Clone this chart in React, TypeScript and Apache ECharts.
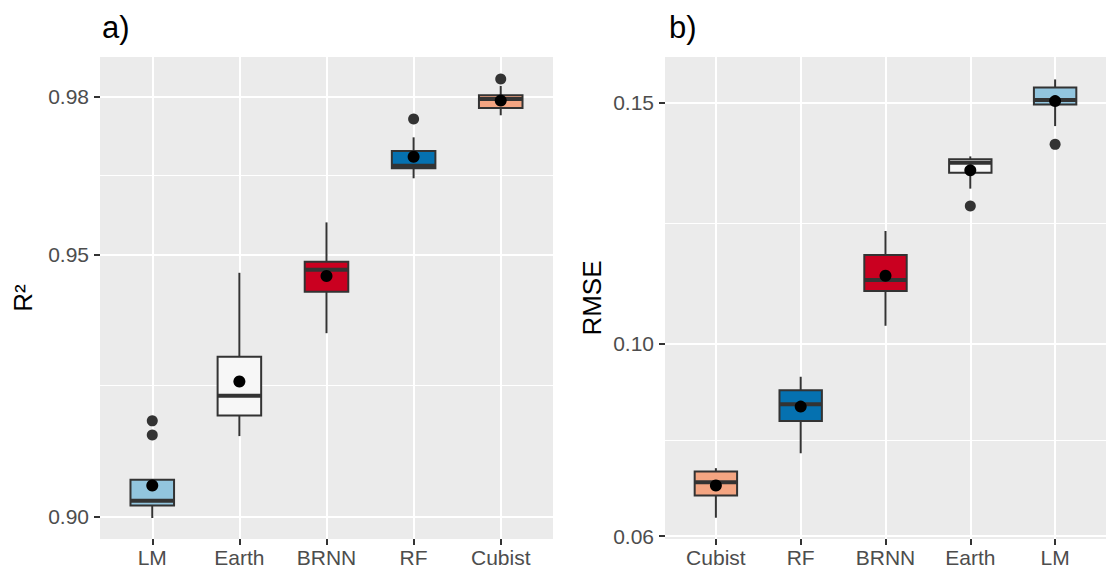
import React, { useEffect, useRef } from "react";
import * as echarts from "echarts";

// ---------- Panel a) R² ----------
const r2Models = ["LM", "Earth", "BRNN", "RF", "Cubist"];
const r2Lower = [0.8998, 0.9154, 0.935, 0.9645, 0.9765];
const r2Q1 = [0.9022, 0.9193, 0.9429, 0.9664, 0.9779];
const r2Median = [0.9031, 0.9231, 0.9471, 0.9669, 0.9796];
const r2Q3 = [0.9071, 0.9305, 0.9486, 0.9697, 0.9803];
const r2Upper = [0.9071, 0.9465, 0.9561, 0.9723, 0.9821];
const r2Mean = [0.906, 0.9258, 0.9459, 0.9686, 0.9793];
const r2Outliers: [string, number][] = [
  ["LM", 0.9183],
  ["LM", 0.9156],
  ["RF", 0.9758],
  ["Cubist", 0.9834],
];
const r2Ticks = [0.9, 0.95, 0.98];
const r2MinorTicks = [0.925, 0.965];
const r2Limits = [0.8958, 0.9876];

// ---------- Panel b) RMSE ----------
const rmseModels = ["Cubist", "RF", "BRNN", "Earth", "LM"];
const rmseLower = [0.0638, 0.0772, 0.1037, 0.1322, 0.1452];
const rmseQ1 = [0.0684, 0.0839, 0.1109, 0.1355, 0.1497];
const rmseMedian = [0.0712, 0.0874, 0.1132, 0.1376, 0.1506];
const rmseQ3 = [0.0734, 0.0903, 0.1184, 0.1383, 0.1532];
const rmseUpper = [0.0741, 0.0931, 0.1234, 0.1389, 0.1549];
const rmseMean = [0.0705, 0.0869, 0.1141, 0.136, 0.1504];
const rmseOutliers: [string, number][] = [
  ["Earth", 0.1286],
  ["LM", 0.1414],
];
const rmseTicks = [0.06, 0.1, 0.15];
const rmseMinorTicks = [0.08, 0.125];
const rmseLimits = [0.05938, 0.15956];

const modelColors: Record<string, string> = {
  LM: "#92C5DE",
  Earth: "#F7F7F7",
  BRNN: "#CA0020",
  RF: "#0571B0",
  Cubist: "#F4A582",
};

const FONT = "'Liberation Sans', Arial, Helvetica, sans-serif";
const DARK = "#333333";

function xAxisFor(gridIndex: number, models: string[]) {
  const pos = models.map((_, i) => i + 1);
  return {
    gridIndex,
    type: "value",
    min: 0.4,
    max: models.length + 0.6,
    axisLine: { show: false },
    axisTick: {
      show: true,
      customValues: pos,
      length: 6,
      lineStyle: { color: DARK, width: 2 },
    },
    axisLabel: {
      customValues: pos,
      formatter: (v: number) => models[Math.round(v) - 1] ?? "",
      color: "#4D4D4D",
      fontSize: 21,
      fontFamily: FONT,
      margin: 8,
    },
    splitLine: { show: true, lineStyle: { color: "#FFFFFF", width: 2 } },
  };
}

function yAxesFor(
  gridIndex: number,
  limits: number[],
  ticks: number[],
  minor: number[],
  name: string,
  nameGap: number
) {
  return [
    {
      gridIndex,
      type: "value",
      min: limits[0],
      max: limits[1],
      name,
      nameLocation: "middle",
      nameGap,
      nameTextStyle: { fontSize: 26, color: "#000000", fontFamily: FONT },
      axisLine: { show: false },
      axisTick: {
        show: true,
        customValues: ticks,
        length: 6,
        lineStyle: { color: DARK, width: 2 },
      },
      axisLabel: {
        customValues: ticks,
        formatter: (v: number) => v.toFixed(2),
        color: "#4D4D4D",
        fontSize: 21,
        fontFamily: FONT,
        margin: 11,
      },
      splitLine: { show: true, lineStyle: { color: "#FFFFFF", width: 2 } },
    },
    {
      gridIndex,
      type: "value",
      position: "left",
      min: limits[0],
      max: limits[1],
      axisLine: { show: false },
      axisTick: { show: false, customValues: minor },
      axisLabel: { show: false, customValues: minor },
      splitLine: { show: true, lineStyle: { color: "#FFFFFF", width: 1 } },
    },
  ];
}

function boxSeries(
  axisIdx: number,
  yIdx: number,
  models: string[],
  lo: number[],
  q1: number[],
  med: number[],
  q3: number[],
  hi: number[]
) {
  return {
    type: "custom",
    xAxisIndex: axisIdx,
    yAxisIndex: yIdx,
    z: 3,
    encode: { x: 0, y: [1, 2, 3, 4, 5] },
    data: models.map((_, i) => [i + 1, lo[i], q1[i], med[i], q3[i], hi[i]]),
    renderItem: (params: any, api: any) => {
      const x = api.value(0);
      const pLo = api.coord([x, api.value(1)]);
      const pQ1 = api.coord([x, api.value(2)]);
      const pMed = api.coord([x, api.value(3)]);
      const pQ3 = api.coord([x, api.value(4)]);
      const pHi = api.coord([x, api.value(5)]);
      const w = api.size([0.5, 0])[0];
      const cx = pMed[0];
      const fill = modelColors[models[params.dataIndex]];
      const lineStyle = { stroke: DARK, lineWidth: 2 };
      return {
        type: "group",
        children: [
          {
            type: "line",
            shape: { x1: cx, y1: pHi[1], x2: cx, y2: pQ3[1] },
            style: lineStyle,
          },
          {
            type: "line",
            shape: { x1: cx, y1: pQ1[1], x2: cx, y2: pLo[1] },
            style: lineStyle,
          },
          {
            type: "rect",
            shape: { x: cx - w / 2, y: pQ3[1], width: w, height: pQ1[1] - pQ3[1] },
            style: { fill, stroke: DARK, lineWidth: 2 },
          },
          {
            type: "line",
            shape: { x1: cx - w / 2, y1: pMed[1], x2: cx + w / 2, y2: pMed[1] },
            style: { stroke: DARK, lineWidth: 4 },
          },
        ],
      };
    },
  };
}

function outlierSeries(axisIdx: number, yIdx: number, models: string[], outliers: [string, number][]) {
  return {
    type: "scatter",
    xAxisIndex: axisIdx,
    yAxisIndex: yIdx,
    z: 4,
    symbol: "circle",
    symbolSize: 11,
    itemStyle: { color: DARK, opacity: 1 },
    data: outliers.map(([m, v]) => [models.indexOf(m) + 1, v]),
  };
}

function meanSeries(axisIdx: number, yIdx: number, means: number[]) {
  return {
    type: "scatter",
    xAxisIndex: axisIdx,
    yAxisIndex: yIdx,
    z: 5,
    symbol: "circle",
    symbolSize: 12,
    itemStyle: { color: "#000000", opacity: 1 },
    data: means.map((v, i) => [i + 1, v]),
  };
}

export default function App() {
  const ref = useRef<HTMLDivElement>(null);

  useEffect(() => {
    if (!ref.current) return;
    const chart = echarts.init(ref.current, undefined, { renderer: "svg" });
    const titleStyle = { fontSize: 31, fontWeight: "normal", color: "#000", fontFamily: FONT };
    const option: any = {
      animation: false,
      backgroundColor: "#FFFFFF",
      textStyle: { fontFamily: FONT },
      title: [
        { text: "a)", left: 97, top: 7, textStyle: titleStyle },
        { text: "b)", left: 664, top: 7, textStyle: titleStyle },
      ],
      grid: [
        {
          left: 100,
          top: 57,
          width: 453,
          height: 482,
          show: true,
          backgroundColor: "#EBEBEB",
          borderWidth: 0,
        },
        {
          left: 665,
          top: 57,
          width: 441,
          height: 482,
          show: true,
          backgroundColor: "#EBEBEB",
          borderWidth: 0,
        },
      ],
      xAxis: [xAxisFor(0, r2Models), xAxisFor(1, rmseModels)],
      yAxis: [
        ...yAxesFor(0, r2Limits, r2Ticks, r2MinorTicks, "R²", 64),
        ...yAxesFor(1, rmseLimits, rmseTicks, rmseMinorTicks, "RMSE", 60),
      ],
      series: [
        boxSeries(0, 0, r2Models, r2Lower, r2Q1, r2Median, r2Q3, r2Upper),
        outlierSeries(0, 0, r2Models, r2Outliers),
        meanSeries(0, 0, r2Mean),
        boxSeries(1, 2, rmseModels, rmseLower, rmseQ1, rmseMedian, rmseQ3, rmseUpper),
        outlierSeries(1, 2, rmseModels, rmseOutliers),
        meanSeries(1, 2, rmseMean),
      ],
    };
    chart.setOption(option);
    return () => chart.dispose();
  }, []);

  return (
    <div
      ref={ref}
      style={{ position: "absolute", left: 0, top: 0, width: 1108, height: 572 }}
    />
  );
}
